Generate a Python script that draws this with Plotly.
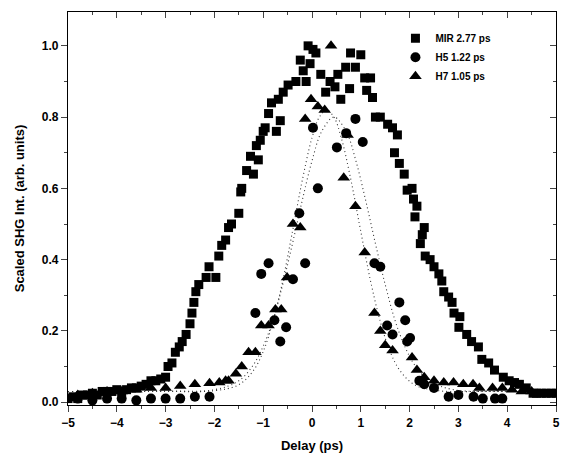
import plotly.graph_objects as go

# MIR squares
mir_x = [-5.0, -4.9, -4.8, -4.7, -4.6, -4.5, -4.4, -4.3, -4.2, -4.1, -4.0, -3.9, -3.8, -3.7, -3.6, -3.5,
         -3.4, -3.3, -3.2, -3.1, -3.0, -2.95, -2.87, -2.8, -2.72, -2.66, -2.58, -2.5, -2.46, -2.42, -2.38,
         -2.32, -2.17, -2.11, -1.97, -1.91, -1.85, -1.77, -1.71, -1.65, -1.5, -1.46, -1.44, -1.34, -1.26,
         -1.2, -1.14, -1.1, -1.06, -1.0, -0.96, -0.89, -0.83, -0.73, -0.69, -0.65, -0.59, -0.49, -0.33,
         -0.24, -0.18, -0.12, -0.08, -0.04, 0.02, 0.08, 0.18, 0.28, 0.37, 0.47, 0.53, 0.59, 0.69, 0.77,
         0.79, 0.89, 1.0, 1.08, 1.12, 1.2, 1.24, 1.3, 1.4, 1.55, 1.65, 1.69, 1.75, 1.79, 1.89, 1.95, 2.05,
         2.08, 2.11, 2.15, 2.22, 2.26, 2.3, 2.32, 2.42, 2.5, 2.6, 2.66, 2.7, 2.8, 2.87, 2.91, 3.01, 3.03,
         3.17, 3.27, 3.41, 3.48, 3.62, 3.74, 3.92, 4.04, 4.15, 4.25, 4.39, 4.53, 4.6, 4.7, 4.8, 4.9, 5.0]
mir_y = [0.01, 0.015, 0.01, 0.02, 0.02, 0.025, 0.02, 0.03, 0.03, 0.03, 0.035, 0.03, 0.035, 0.04, 0.04, 0.045,
         0.05, 0.06, 0.06, 0.065, 0.07, 0.10, 0.11, 0.14, 0.155, 0.17, 0.19, 0.22, 0.25, 0.28, 0.31,
         0.33, 0.35, 0.38, 0.35, 0.41, 0.44, 0.455, 0.49, 0.50, 0.53, 0.59, 0.60, 0.65, 0.69,
         0.64, 0.72, 0.68, 0.735, 0.76, 0.77, 0.81, 0.84, 0.76, 0.85, 0.79, 0.87, 0.89, 0.90,
         0.96, 0.93, 0.90, 1.0, 0.95, 0.99, 0.98, 0.92, 0.87, 0.90, 0.885, 0.92, 0.85, 0.94, 0.88,
         0.98, 0.94, 0.975, 0.91, 0.875, 0.91, 0.855, 0.80, 0.80, 0.78, 0.77, 0.70, 0.75, 0.67, 0.64, 0.595, 0.60,
         0.57, 0.52, 0.55, 0.445, 0.47, 0.49, 0.41, 0.40, 0.38, 0.36, 0.34, 0.31, 0.295, 0.28, 0.25, 0.21, 0.24,
         0.19, 0.17, 0.155, 0.12, 0.11, 0.09, 0.07, 0.06, 0.055, 0.05, 0.04, 0.025, 0.025, 0.025, 0.025, 0.025, 0.025]

# H5 circles
h5_x = [-4.8, -4.5, -4.2, -3.9, -3.6, -3.3, -3.0, -2.7, -2.4, -2.1, -1.16, -1.04, -0.89, -0.77, -0.65, -0.53,
        -0.39, -0.26, -0.14, 0.02, 0.12, 0.51, 0.70, 0.89, 1.04, 1.28, 1.40, 1.54, 1.65, 1.79, 1.91, 1.95,
        2.01, 2.20, 2.30, 2.50, 2.80, 3.0, 3.31, 3.5, 3.75, 3.9]
h5_y = [0.01, 0.005, 0.01, 0.01, 0.005, 0.01, 0.01, 0.01, 0.015, 0.015, 0.25, 0.36, 0.39, 0.23, 0.17, 0.21,
        0.345, 0.53, 0.39, 0.77, 0.60, 0.715, 0.755, 0.795, 0.73, 0.39, 0.38, 0.215, 0.19, 0.28, 0.23, 0.17,
        0.18, 0.06, 0.05, 0.04, 0.015, 0.02, 0.015, 0.01, 0.01, 0.01]

# H7 triangles
h7_x = [-4.8, -4.5, -4.2, -3.9, -3.6, -3.3, -3.0, -2.7, -2.4, -2.1, -1.9, -1.77, -1.71, -1.56, -1.44, -1.30,
        -1.16, -1.04, -0.89, -0.75, -0.63, -0.51, -0.39, -0.24, -0.14, -0.02, 0.12, 0.26, 0.39, 0.65, 0.73,
        0.89, 1.08, 1.28, 1.40, 1.50, 1.65, 2.05, 2.15, 2.3, 2.5, 2.7, 2.9, 3.1, 3.3, 3.43, 3.7, 3.9, 4.1,
        4.3, 4.5]
h7_y = [0.02, 0.025, 0.03, 0.03, 0.035, 0.04, 0.04, 0.045, 0.05, 0.053, 0.055, 0.06, 0.06, 0.08, 0.10, 0.14,
        0.14, 0.215, 0.215, 0.26, 0.26, 0.35, 0.50, 0.49, 0.795, 0.85, 0.83, 0.82, 1.0, 0.63, 0.75,
        0.55, 0.42, 0.25, 0.20, 0.16, 0.145, 0.125, 0.09, 0.07, 0.06, 0.055, 0.055, 0.05, 0.05, 0.04, 0.04,
        0.04, 0.035, 0.03, 0.03]

# dotted fit curves
fitA_x = [-5.0, -3.0, -2.0, -1.5, -1.2, -1.0, -0.8, -0.6, -0.4, -0.2, 0.0, 0.15, 0.3, 0.45, 0.6, 0.8,
          1.0, 1.2, 1.4, 1.6, 1.8, 2.1, 2.6, 3.5, 5.0]
fitA_y = [0.03, 0.03, 0.032, 0.049, 0.089, 0.142, 0.226, 0.34, 0.479, 0.622, 0.742, 0.80, 0.82, 0.80, 0.742,
          0.622, 0.479, 0.34, 0.226, 0.142, 0.089, 0.049, 0.032, 0.03, 0.03]
fitB_x = [-5.0, -3.0, -2.0, -1.5, -1.2, -1.0, -0.8, -0.6, -0.4, -0.2, 0.0, 0.2, 0.45, 0.7, 0.9, 1.1,
          1.3, 1.5, 1.7, 1.9, 2.1, 2.4, 2.9, 4.0, 5.0]
fitB_y = [0.03, 0.031, 0.035, 0.06, 0.105, 0.157, 0.23, 0.33, 0.445, 0.566, 0.677, 0.76, 0.80, 0.76, 0.677,
          0.566, 0.445, 0.33, 0.23, 0.157, 0.105, 0.06, 0.035, 0.03, 0.03]

legend_names = ["MIR 2.77 ps", "H5 1.22 ps", "H7 1.05 ps"]
x_ticks = [-5, -4, -3, -2, -1, 0, 1, 2, 3, 4, 5]
y_ticks = [0.0, 0.2, 0.4, 0.6, 0.8, 1.0]

FONT = "Liberation Sans, Arial, sans-serif"

fig = go.Figure()
for fx, fy in [(fitA_x, fitA_y), (fitB_x, fitB_y)]:
    fig.add_trace(go.Scatter(x=fx, y=fy, mode="lines", line=dict(color="#333", width=1.1, dash="1px,3px"),
                             line_shape="spline", showlegend=False, hoverinfo="skip"))

fig.add_trace(go.Scatter(x=mir_x, y=mir_y, mode="markers", name=legend_names[0],
                         marker=dict(symbol="square", size=9, color="black")))
fig.add_trace(go.Scatter(x=h5_x, y=h5_y, mode="markers", name=legend_names[1],
                         marker=dict(symbol="circle", size=10, color="black")))
fig.add_trace(go.Scatter(x=h7_x, y=h7_y, mode="markers", name=legend_names[2],
                         marker=dict(symbol="triangle-up", size=11, color="black")))
# invisible trace for the mirror axes
fig.add_trace(go.Scatter(x=[0], y=[0], xaxis="x2", yaxis="y2", mode="markers",
                         marker=dict(opacity=0), showlegend=False, hoverinfo="skip"))

XR = [-5, 5]
YR = [-0.008, 1.095]

fig.update_layout(
    width=564, height=462,
    margin=dict(l=68, r=4, t=12, b=57),
    plot_bgcolor="white", paper_bgcolor="white",
    font=dict(family=FONT, color="black", size=12, weight="bold"),
    showlegend=True,
    legend=dict(x=0.671, y=0.97, xanchor="left", yanchor="top", bgcolor="rgba(0,0,0,0)",
                font=dict(size=10, family=FONT, weight="bold"), tracegroupgap=0, itemwidth=30),
    xaxis=dict(range=XR, tickvals=x_ticks, ticks="outside", ticklen=6, tickwidth=1.2,
               showline=True, linecolor="black", linewidth=1.2, showgrid=False, zeroline=False,
               minor=dict(dtick=0.5, ticks="outside", ticklen=3, tickwidth=1),
               title=dict(text="Delay (ps)", font=dict(size=13, family=FONT, weight="bold"), standoff=12),
               tickfont=dict(size=12, family=FONT, weight="bold")),
    yaxis=dict(range=YR, tickvals=y_ticks, ticktext=["0.0", "0.2", "0.4", "0.6", "0.8", "1.0"],
               ticks="outside", ticklen=6, tickwidth=1.2,
               showline=True, linecolor="black", linewidth=1.2, showgrid=False, zeroline=False,
               minor=dict(dtick=0.1, ticks="outside", ticklen=3, tickwidth=1),
               title=dict(text="Scaled SHG Int. (arb. units)", font=dict(size=13, family=FONT, weight="bold"),
                          standoff=14),
               tickfont=dict(size=12, family=FONT, weight="bold")),
    xaxis2=dict(range=XR, overlaying="x", side="top", tickvals=x_ticks, ticks="inside", ticklen=6,
                tickwidth=1.2, showticklabels=False, showline=True, linecolor="black", linewidth=1.2,
                showgrid=False, zeroline=False,
                minor=dict(dtick=0.5, ticks="inside", ticklen=3, tickwidth=1)),
    yaxis2=dict(range=YR, overlaying="y", side="right", tickvals=y_ticks, ticks="inside", ticklen=6,
                tickwidth=1.2, showticklabels=False, showline=True, linecolor="black", linewidth=1.2,
                showgrid=False, zeroline=False,
                minor=dict(dtick=0.1, ticks="inside", ticklen=3, tickwidth=1)),
)

fig.write_html("out.html")
